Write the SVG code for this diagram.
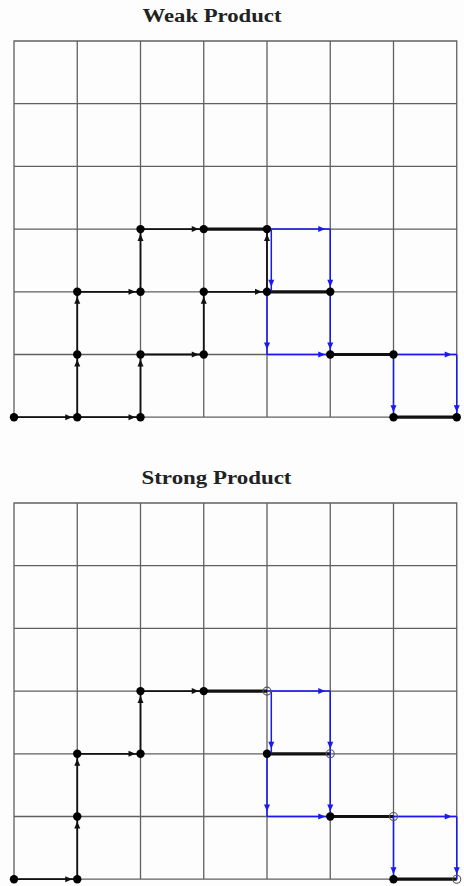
<svg xmlns="http://www.w3.org/2000/svg" width="464" height="886" viewBox="0 0 464 886">
<style>
.title{font-family:"Liberation Serif","DejaVu Serif",serif;font-weight:bold;font-size:18.5px;fill:#222;text-anchor:middle}
.grid{fill:none;stroke:#606060;stroke-width:1.3}
.ba{stroke:#111;stroke-width:1.8;fill:none;marker-end:url(#mb)}
.bt{stroke:#111;stroke-width:3.2;fill:none}
.bla{stroke:#1a1aee;stroke-width:1.5;fill:none;marker-end:url(#mu)}
.dot{fill:#000}
.open{fill:none;stroke:#555;stroke-width:1.1}
</style>
<defs>
<marker id="mb" markerUnits="userSpaceOnUse" markerWidth="14" markerHeight="8" refX="12" refY="3" orient="auto" overflow="visible"><path d="M0,0 L7,3 L0,6 Z" fill="#111"/></marker>
<marker id="mu" markerUnits="userSpaceOnUse" markerWidth="14" markerHeight="8" refX="12" refY="3" orient="auto" overflow="visible"><path d="M0,0 L7,3 L0,6 Z" fill="#1a1aee"/></marker>
</defs>
<rect width="464" height="886" fill="#fdfdfd"/>

<text class="title" x="212" y="22" textLength="139" lengthAdjust="spacingAndGlyphs">Weak Product</text>
<text class="title" x="216.5" y="484" textLength="150" lengthAdjust="spacingAndGlyphs">Strong Product</text>

<g id="grid-weak">
<path class="grid" d="M14,41H456.75V417.2H14Z M77.25,41V417.2 M140.5,41V417.2 M203.75,41V417.2 M267,41V417.2 M330.25,41V417.2 M393.5,41V417.2 M14,103.7H456.75 M14,166.4H456.75 M14,229.1H456.75 M14,291.8H456.75 M14,354.5H456.75"/>
</g>
<g id="grid-strong">
<path class="grid" d="M14,503H456.75V879.2H14Z M77.25,503V879.2 M140.5,503V879.2 M203.75,503V879.2 M267,503V879.2 M330.25,503V879.2 M393.5,503V879.2 M14,565.7H456.75 M14,628.4H456.75 M14,691.1H456.75 M14,753.8H456.75 M14,816.5H456.75"/>
</g>

<g id="connectors-weak">
<line class="ba" x1="14" y1="417.2" x2="77.25" y2="417.2"/>
<line class="ba" x1="77.25" y1="417.2" x2="140.5" y2="417.2"/>
<line class="ba" x1="77.25" y1="417.2" x2="77.25" y2="354.5"/>
<line class="ba" x1="140.5" y1="417.2" x2="140.5" y2="354.5"/>
<line class="ba" x1="77.25" y1="354.5" x2="77.25" y2="291.8"/>
<line class="ba" x1="140.5" y1="354.5" x2="203.75" y2="354.5"/>
<line class="ba" x1="77.25" y1="291.8" x2="140.5" y2="291.8"/>
<line class="ba" x1="203.75" y1="354.5" x2="203.75" y2="291.8"/>
<line class="ba" x1="140.5" y1="291.8" x2="140.5" y2="229.1"/>
<line class="ba" x1="203.75" y1="291.8" x2="267" y2="291.8"/>
<line class="ba" x1="140.5" y1="229.1" x2="203.75" y2="229.1"/>
<line class="ba" x1="267" y1="291.8" x2="267" y2="229.1"/>
<line class="bt" x1="203.75" y1="229.1" x2="267" y2="229.1"/>
<line class="bt" x1="267" y1="291.8" x2="330.25" y2="291.8"/>
<line class="bt" x1="330.25" y1="354.5" x2="393.5" y2="354.5"/>
<line class="bt" x1="393.5" y1="417.2" x2="456.75" y2="417.2"/>
<line class="bla" x1="267" y1="229.1" x2="330.25" y2="229.1"/>
<line class="bla" x1="330.25" y1="229.1" x2="330.25" y2="291.8"/>
<line class="bla" x1="271.3" y1="230" x2="271.3" y2="291.8"/>
<line class="bla" x1="267" y1="291.8" x2="267" y2="354.5"/>
<line class="bla" x1="267" y1="354.5" x2="330.25" y2="354.5"/>
<line class="bla" x1="330.25" y1="291.8" x2="330.25" y2="354.5"/>
<line class="bla" x1="393.5" y1="354.5" x2="456.75" y2="354.5"/>
<line class="bla" x1="393.5" y1="354.5" x2="393.5" y2="417.2"/>
<line class="bla" x1="456.75" y1="354.5" x2="456.75" y2="417.2"/>
</g>

<g id="connectors-strong">
<line class="ba" x1="14" y1="879.2" x2="77.25" y2="879.2"/>
<line class="ba" x1="77.25" y1="879.2" x2="77.25" y2="816.5"/>
<line class="ba" x1="77.25" y1="816.5" x2="77.25" y2="753.8"/>
<line class="ba" x1="77.25" y1="753.8" x2="140.5" y2="753.8"/>
<line class="ba" x1="140.5" y1="753.8" x2="140.5" y2="691.1"/>
<line class="ba" x1="140.5" y1="691.1" x2="203.75" y2="691.1"/>
<line class="bt" x1="203.75" y1="691.1" x2="267" y2="691.1"/>
<line class="bt" x1="267" y1="753.8" x2="330.25" y2="753.8"/>
<line class="bt" x1="330.25" y1="816.5" x2="393.5" y2="816.5"/>
<line class="bt" x1="393.5" y1="879.2" x2="456.75" y2="879.2"/>
<line class="bla" x1="267" y1="691.1" x2="330.25" y2="691.1"/>
<line class="bla" x1="330.25" y1="691.1" x2="330.25" y2="753.8"/>
<line class="bla" x1="271.3" y1="692" x2="271.3" y2="753.8"/>
<line class="bla" x1="267" y1="753.8" x2="267" y2="816.5"/>
<line class="bla" x1="267" y1="816.5" x2="330.25" y2="816.5"/>
<line class="bla" x1="330.25" y1="753.8" x2="330.25" y2="816.5"/>
<line class="bla" x1="393.5" y1="816.5" x2="456.75" y2="816.5"/>
<line class="bla" x1="393.5" y1="816.5" x2="393.5" y2="879.2"/>
<line class="bla" x1="456.75" y1="816.5" x2="456.75" y2="879.2"/>
</g>

<g id="w00"><circle class="dot" cx="14" cy="417.2" r="4.2"/></g>
<g id="w10"><circle class="dot" cx="77.25" cy="417.2" r="4.2"/></g>
<g id="w20"><circle class="dot" cx="140.5" cy="417.2" r="4.2"/></g>
<g id="w11"><circle class="dot" cx="77.25" cy="354.5" r="4.2"/></g>
<g id="w21"><circle class="dot" cx="140.5" cy="354.5" r="4.2"/></g>
<g id="w31"><circle class="dot" cx="203.75" cy="354.5" r="4.2"/></g>
<g id="w12"><circle class="dot" cx="77.25" cy="291.8" r="4.2"/></g>
<g id="w22"><circle class="dot" cx="140.5" cy="291.8" r="4.2"/></g>
<g id="w32"><circle class="dot" cx="203.75" cy="291.8" r="4.2"/></g>
<g id="w42"><circle class="dot" cx="267" cy="291.8" r="4.2"/></g>
<g id="w52"><circle class="dot" cx="330.25" cy="291.8" r="4.2"/></g>
<g id="w23"><circle class="dot" cx="140.5" cy="229.1" r="4.2"/></g>
<g id="w33"><circle class="dot" cx="203.75" cy="229.1" r="4.2"/></g>
<g id="w43"><circle class="dot" cx="267" cy="229.1" r="4.2"/></g>
<g id="w51"><circle class="dot" cx="330.25" cy="354.5" r="4.2"/></g>
<g id="w61"><circle class="dot" cx="393.5" cy="354.5" r="4.2"/></g>
<g id="w60"><circle class="dot" cx="393.5" cy="417.2" r="4.2"/></g>
<g id="w70"><circle class="dot" cx="456.75" cy="417.2" r="4.2"/></g>

<g id="s00"><circle class="dot" cx="14" cy="879.2" r="4.2"/></g>
<g id="s10"><circle class="dot" cx="77.25" cy="879.2" r="4.2"/></g>
<g id="s11"><circle class="dot" cx="77.25" cy="816.5" r="4.2"/></g>
<g id="s12"><circle class="dot" cx="77.25" cy="753.8" r="4.2"/></g>
<g id="s22"><circle class="dot" cx="140.5" cy="753.8" r="4.2"/></g>
<g id="s23"><circle class="dot" cx="140.5" cy="691.1" r="4.2"/></g>
<g id="s33"><circle class="dot" cx="203.75" cy="691.1" r="4.2"/></g>
<g id="s43"><circle class="open" cx="267" cy="691.1" r="4"/></g>
<g id="s42"><circle class="dot" cx="267" cy="753.8" r="4.2"/></g>
<g id="s52"><circle class="open" cx="330.25" cy="753.8" r="4"/></g>
<g id="s51"><circle class="dot" cx="330.25" cy="816.5" r="4.2"/></g>
<g id="s61"><circle class="open" cx="393.5" cy="816.5" r="4"/></g>
<g id="s60"><circle class="dot" cx="393.5" cy="879.2" r="4.2"/></g>
<g id="s70"><circle class="open" cx="456.75" cy="879.2" r="4"/></g>
</svg>
